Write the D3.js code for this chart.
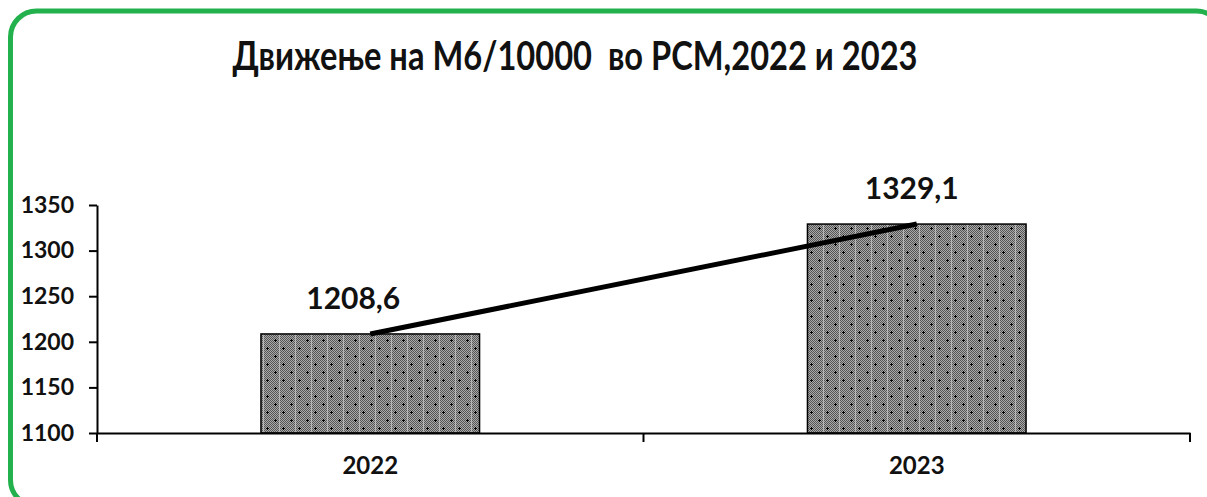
<!DOCTYPE html>
<html>
<head>
<meta charset="utf-8">
<script src="https://cdn.jsdelivr.net/npm/d3@7"></script>
<style>
  body { margin: 0; background: #fff; }
  svg { display: block; font-family: Lato, sans-serif; font-weight: bold; }
</style>
</head>
<body>
<svg width="1207" height="497"></svg>
<script>
// data
const years = ["2022", "2023"];
const values = [1208.6, 1329.1];
const valueLabels = ["1208,6", "1329,1"];
const yTicks = [1100, 1150, 1200, 1250, 1300, 1350];

const FONT = "Lato, sans-serif";
const svg = d3.select("svg");

// green frame
svg.append("rect")
    .attr("x", 10.5).attr("y", 11)
    .attr("width", 1212).attr("height", 495)
    .attr("rx", 26).attr("ry", 26)
    .attr("fill", "none")
    .attr("stroke", "#22b14c")
    .attr("stroke-width", 5);

svg.append("text")
    .attr("x", 575).attr("y", 70)
    .attr("text-anchor", "middle")
    .attr("font-size", 40)
    .attr("fill", "#111")
    .attr("textLength", 685)
    .attr("lengthAdjust", "spacingAndGlyphs")
    .style("white-space", "pre")
    .text("Движење на М6/10000  во РСМ,2022 и 2023");

// pattern fill for the bars
const defs = svg.append("defs");
const pat = defs.append("pattern")
    .attr("id", "dots")
    .attr("patternUnits", "userSpaceOnUse")
    .attr("width", 16).attr("height", 16);
pat.append("rect").attr("width", 16).attr("height", 16).attr("fill", "#aaaaaa");
for (let i = 0; i < 16; i++) {
    for (let j = 0; j < 16; j++) {
        if ((i + j) % 2 === 0) {
            pat.append("rect").attr("x", i).attr("y", j).attr("width", 1).attr("height", 1).attr("fill", "#555");
        }
    }
}
// dark marks and a pale dotted stripe
[[3, 4], [11, 12]].forEach(([cx, cy]) => {
    pat.append("rect").attr("x", cx - 1).attr("y", cy).attr("width", 3).attr("height", 1).attr("fill", "#000");
    pat.append("rect").attr("x", cx).attr("y", cy - 1).attr("width", 1).attr("height", 3).attr("fill", "#000");
});
pat.append("rect").attr("x", 7).attr("y", 0).attr("width", 1).attr("height", 16).attr("fill", "#d8d8d8").attr("opacity", 0.6);

const plotL = 97, plotR = 1190, plotT = 205, plotB = 433;

const x = d3.scaleBand()
    .domain(years)
    .range([plotL, plotR])
    .paddingInner(0)
    .paddingOuter(0);

const y = d3.scaleLinear()
    .domain([1100, 1350])
    .range([plotB, plotT]);

const barW = x.bandwidth() * 0.4;

svg.selectAll(".bar")
    .data(years)
    .enter()
    .append("rect")
    .attr("class", "bar")
    .attr("x", (d) => x(d) + (x.bandwidth() - barW) / 2)
    .attr("y", (d, i) => y(values[i]))
    .attr("width", barW)
    .attr("height", (d, i) => plotB - y(values[i]))
    .attr("fill", "url(#dots)")
    .attr("stroke", "#000")
    .attr("stroke-width", 1.5);

// axes
const yAxis = svg.append("g")
    .attr("transform", `translate(${plotL},0)`)
    .call(d3.axisLeft(y).tickValues(yTicks).tickFormat(d3.format("d")).tickSize(8).tickSizeOuter(0).tickPadding(15));
yAxis.select(".domain").attr("stroke", "#000").attr("stroke-width", 2);
yAxis.selectAll(".tick line").attr("stroke", "#000").attr("stroke-width", 2);
yAxis.selectAll(".tick text")
    .attr("font-size", 23)
    .attr("font-family", FONT)
    .attr("font-weight", "bold")
    .attr("fill", "#111");

const xAxis = svg.append("g")
    .attr("transform", `translate(0,${plotB})`)
    .call(d3.axisBottom(x).tickSize(0).tickPadding(24));
xAxis.select(".domain").attr("stroke", "#000").attr("stroke-width", 2);
xAxis.selectAll(".tick text")
    .attr("font-size", 24)
    .attr("font-family", FONT)
    .attr("font-weight", "bold")
    .attr("fill", "#111");

// category boundary ticks
const bounds = [plotL, x(years[1]), plotR];
svg.selectAll(".bt")
    .data(bounds)
    .enter()
    .append("line")
    .attr("x1", (d) => d).attr("x2", (d) => d)
    .attr("y1", plotB).attr("y2", plotB + 9)
    .attr("stroke", "#000").attr("stroke-width", 2);

// line connecting the values
const line = d3.line()
    .x((d, i) => x(years[i]) + x.bandwidth() / 2)
    .y((d) => y(d));
svg.append("path")
    .datum(values)
    .attr("d", line)
    .attr("fill", "none")
    .attr("stroke", "#000")
    .attr("stroke-width", 5);

// value labels
svg.selectAll(".lbl")
    .data(values)
    .enter()
    .append("text")
    .attr("x", (d, i) => x(years[i]) + x.bandwidth() / 2 - (i === 0 ? 17 : 5))
    .attr("y", (d) => y(d) - 25)
    .attr("text-anchor", "middle")
    .attr("font-size", 30)
    .attr("fill", "#111")
    .text((d, i) => valueLabels[i]);
</script>
</body>
</html>
